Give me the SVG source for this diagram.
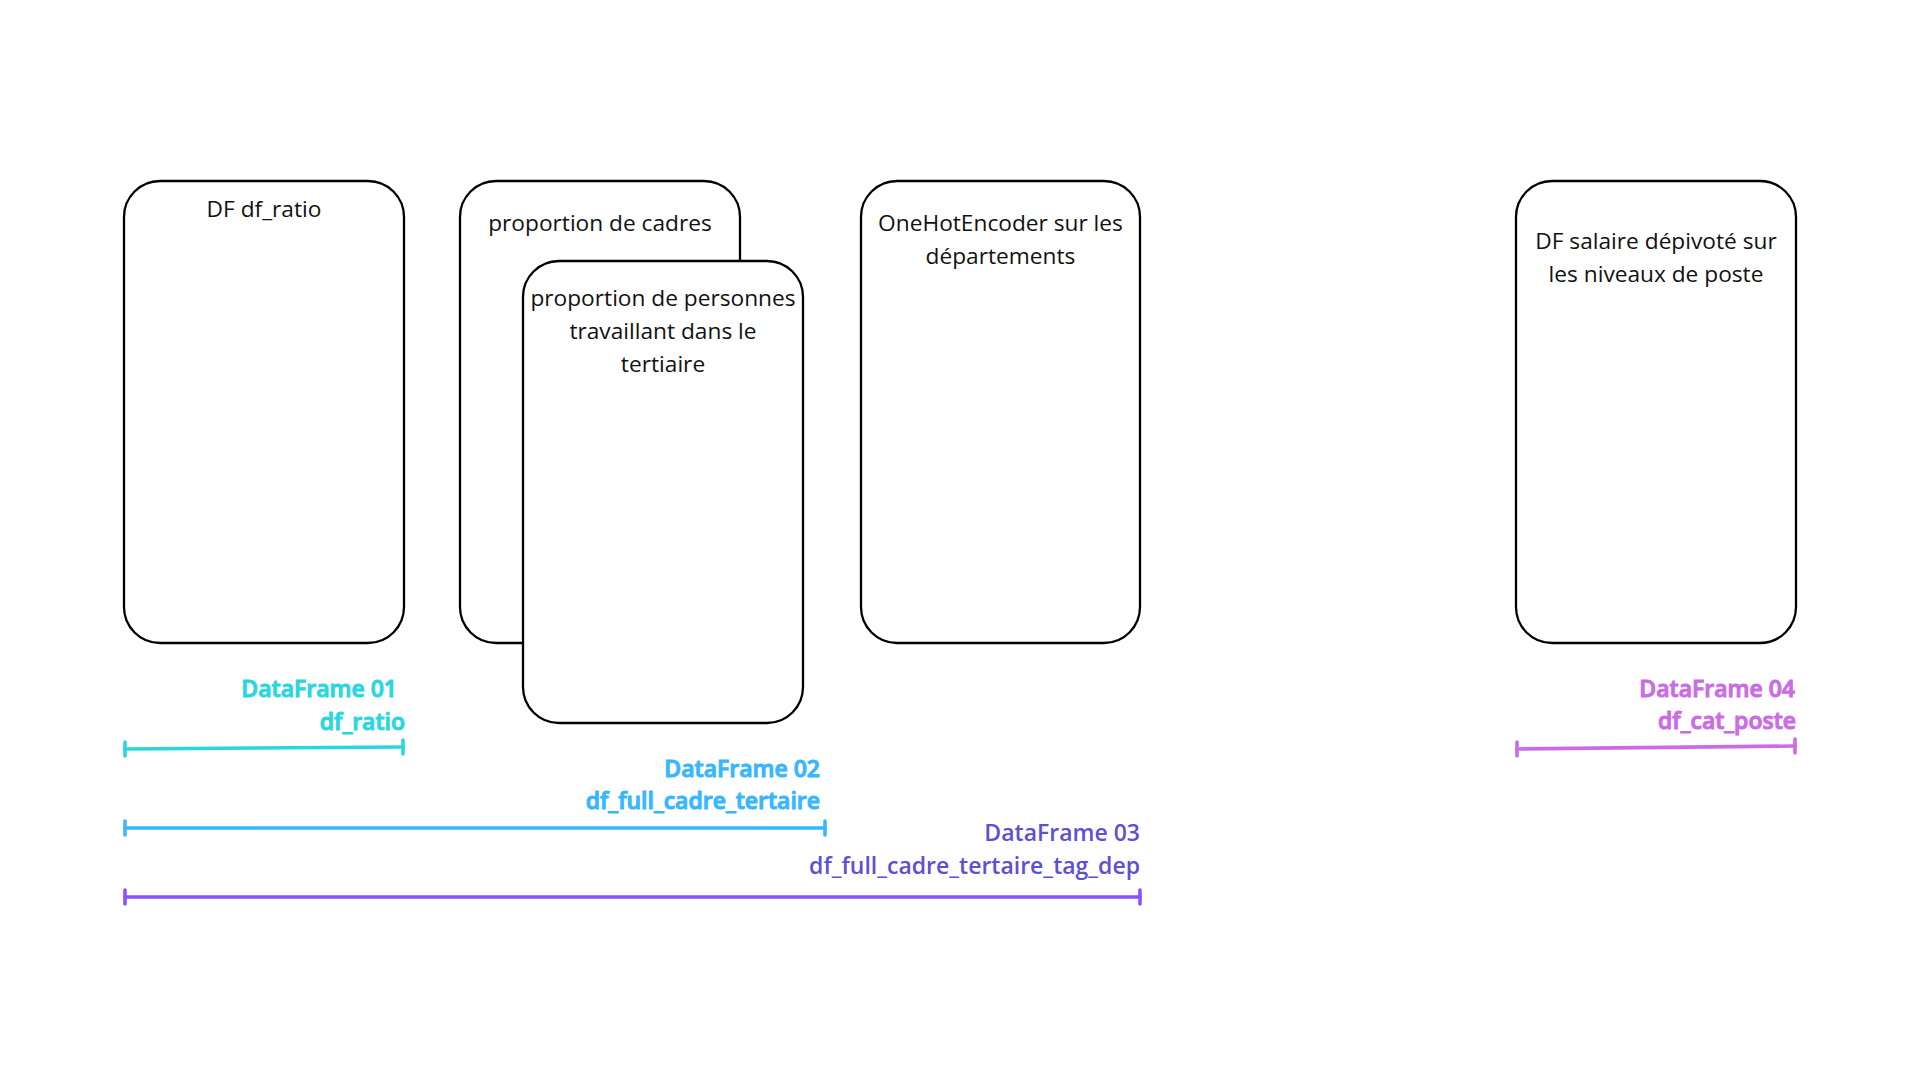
<svg xmlns="http://www.w3.org/2000/svg" width="1920" height="1080" viewBox="0 0 1920 1080">
<style>
.box{fill:#ffffff;stroke:#000000;stroke-width:2.3}
.t{font-family:"Open Sans","Noto Sans","DejaVu Sans",sans-serif;font-size:22.7px;fill:#111111;text-anchor:middle}
.lbl{font-family:"Open Sans","Noto Sans","DejaVu Sans",sans-serif;font-size:23px;font-weight:600;text-anchor:end}
.bar{fill:none;stroke-linecap:round;stroke-width:3.6}
.c1{fill:#2ad6e0;stroke:#2ad6e0}
.c2{fill:#38b6ff;stroke:#38b6ff}
.c3t{fill:#5e50d2}
.c3{stroke:#8c52ff}
.c4{fill:#cb6ce6;stroke:#cb6ce6}
</style>
<rect width="1920" height="1080" fill="#ffffff"/>
<g id="node-df-ratio">
<rect class="box" x="124" y="181" width="280" height="462" rx="36" ry="36"/>
<text class="t" x="264" y="217">DF df_ratio</text>
</g>
<g id="node-cadres">
<rect class="box" x="460" y="181" width="280" height="462" rx="36" ry="36"/>
<text class="t" x="600" y="231">proportion de cadres</text>
</g>
<g id="node-tertiaire">
<rect class="box" x="523" y="261" width="280" height="462" rx="36" ry="36"/>
<text class="t" x="663" y="306">proportion de personnes</text>
<text class="t" x="663" y="339">travaillant dans le</text>
<text class="t" x="663" y="372">tertiaire</text>
</g>
<g id="node-onehot">
<rect class="box" x="861" y="181" width="279" height="462" rx="36" ry="36"/>
<text class="t" x="1000.5" y="231">OneHotEncoder sur les</text>
<text class="t" x="1000.5" y="264">départements</text>
</g>
<g id="node-salaire">
<rect class="box" x="1516" y="181" width="280" height="462" rx="36" ry="36"/>
<text class="t" x="1656" y="249">DF salaire dépivoté sur</text>
<text class="t" x="1656" y="282">les niveaux de poste</text>
</g>
<g id="label-df01">
<text class="lbl c1" x="397" y="697" stroke="none">DataFrame 01</text>
<text class="lbl c1" x="405" y="730" stroke="none">df_ratio</text>
</g>
<g id="label-df02">
<text class="lbl c2" x="820" y="777" stroke="none">DataFrame 02</text>
<text class="lbl c2" x="820" y="809" stroke="none">df_full_cadre_tertaire</text>
</g>
<g id="label-df03">
<text class="lbl c3t" x="1140" y="841">DataFrame 03</text>
<text class="lbl c3t" x="1140" y="874">df_full_cadre_tertaire_tag_dep</text>
</g>
<g id="label-df04">
<text class="lbl c4" x="1795" y="697" stroke="none">DataFrame 04</text>
<text class="lbl c4" x="1796" y="729" stroke="none">df_cat_poste</text>
</g>
<g id="connectors">
<g class="bar c1" fill="none">
<path d="M125 749 L403 747"/>
<path d="M125 742 V756 M403 740 V754"/>
</g>
<g class="bar c2" fill="none">
<path d="M125 828 L825 828"/>
<path d="M125 821 V835 M825 821 V835"/>
</g>
<g class="bar c3" fill="none" stroke-width="4.2">
<path d="M125 897 L1140 897"/>
<path d="M125 890 V904 M1140 890 V904"/>
</g>
<g class="bar c4" fill="none">
<path d="M1517 749 L1795 746"/>
<path d="M1517 742 V756 M1795 739 V753"/>
</g>
</g>
</svg>
